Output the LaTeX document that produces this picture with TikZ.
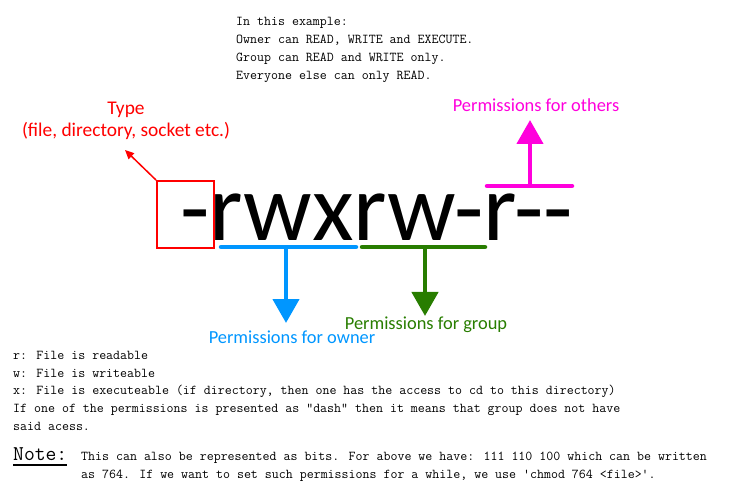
\documentclass[tikz,border=0pt]{standalone}
\usepackage{fontspec}
\setmainfont{Carlito}
\usetikzlibrary{arrows.meta}
\definecolor{typered}{RGB}{255,0,0}
\definecolor{ownerblue}{RGB}{0,150,255}
\definecolor{groupgreen}{RGB}{40,125,0}
\definecolor{othermag}{RGB}{255,0,220}
\newfontfamily\permfont{Carlito}

\begin{document}
\begin{tikzpicture}[x=1pt,y=-1pt,
  txt/.style={anchor=base west,inner sep=0pt,font=\fontsize{13.55}{17.7}\selectfont\ttfamily},
  lbl/.style={inner sep=0pt,font=\fontsize{18.4}{22}\selectfont\permfont},
  bar/.style={line width=4.5pt,line cap=round},
  arr/.style={line width=4.5pt,-{Triangle[width=26pt,length=24pt]}}]
  \useasboundingbox (0,0) rectangle (748,500);
  % example text at the top
  \foreach \y/\t [count=\i] in {26/{In this example:},
      44/{Owner can READ, WRITE and EXECUTE.},
      62/{Group can READ and WRITE only.},
      80/{Everyone else can only READ.}}{
    \node[txt] (top\i) at (236,\y) {\t};
  }
  % the permission string
  \node[anchor=base west,inner sep=0pt,font=\fontsize{96}{100}\selectfont\permfont] (perm) at (180,241) {-rwxrw-r--};
  % type
  \node[draw=typered,line width=2pt,minimum width=57pt,minimum height=67pt,inner sep=0pt] (typebox) at (185.5,214.5) {};
  \node[lbl,typered,align=center,font=\fontsize{19.4}{22}\selectfont\permfont] (typelbl) at (126,121) {Type\\(file, directory, socket etc.)};
  \coordinate (typetip) at (125,150);
  \draw[typered,line width=1.5pt,-{Triangle[width=8pt,length=9pt]}] (typebox.north west) -- (typetip);
  % owner
  \coordinate (ownl) at (221,247);
  \coordinate (ownr) at (356,247);
  \coordinate (own) at (286,247);
  \coordinate (owntip) at (286,323);
  \draw[bar,ownerblue] (ownl) -- (ownr);
  \draw[arr,ownerblue] (own) -- (owntip);
  \node[lbl,ownerblue] (ownlbl) at (292,337) {Permissions for owner};
  % group
  \coordinate (grpl) at (362,247);
  \coordinate (grpr) at (485,247);
  \coordinate (grp) at (425,247);
  \coordinate (grptip) at (425,316);
  \draw[bar,groupgreen] (grpl) -- (grpr);
  \draw[arr,groupgreen] (grp) -- (grptip);
  \node[lbl,groupgreen] (grplbl) at (426,325) {Permissions for group};
  % others
  \coordinate (othl) at (487,186);
  \coordinate (othr) at (572,186);
  \coordinate (oth) at (530,186);
  \coordinate (othtip) at (530,120);
  \draw[bar,othermag] (othl) -- (othr);
  \draw[arr,othermag] (oth) -- (othtip);
  \node[lbl,othermag] (othlbl) at (536,105) {Permissions for others};
  % legend
  \foreach \y/\t [count=\i] in {359/{r: File is readable},
      377/{w: File is writeable},
      394/{x: File is executeable (if directory, then one has the access to cd to this directory)},
      412/{If one of the permissions is presented as "dash" then it means that group does not have},
      430/{said acess.}}{
    \node[txt] (leg\i) at (13,\y) {\t};
  }
  % note
  \node[anchor=base west,inner sep=0pt,font=\fontsize{21}{24}\selectfont\ttfamily] (note) at (13,460) {Note:};
  \draw[line width=1.2pt] ([yshift=-5pt]note.base west) -- ([yshift=-5pt]note.base east);
  \node[txt] (note1) at (81,460) {This can also be represented as bits. For above we have: 111 110 100 which can be written};
  \node[txt] (note2) at (81,478) {as 764. If we want to set such permissions for a while, we use 'chmod 764 <file>'.};
\end{tikzpicture}
\end{document}
